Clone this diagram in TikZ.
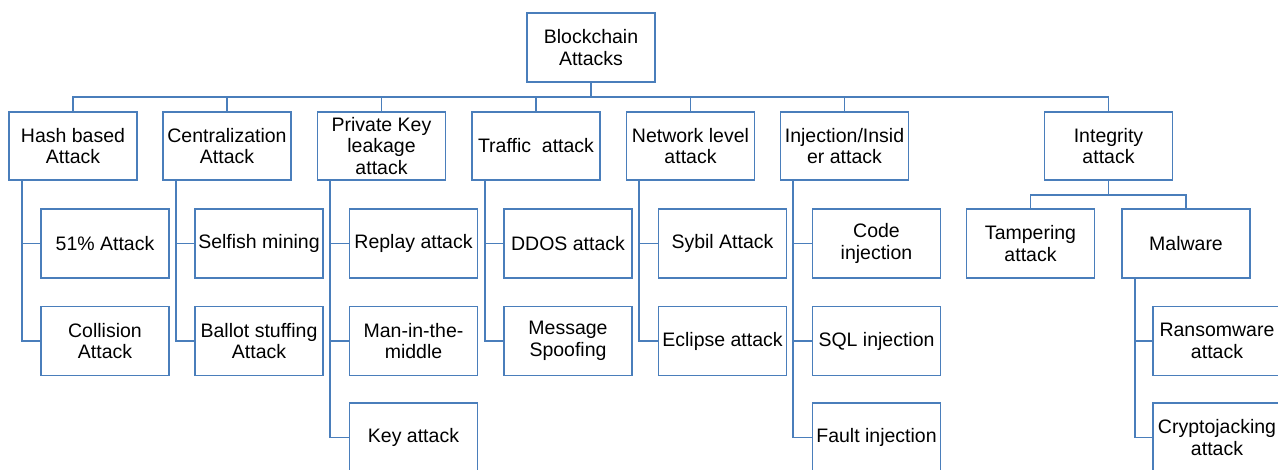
\documentclass[tikz,border=0pt]{standalone}
\usepackage{fontspec}
\setmainfont{Liberation Sans}
\definecolor{boxblue}{RGB}{74,126,187}

\begin{document}
\begin{tikzpicture}[x=1pt, y=-1pt,
    box/.style={draw=boxblue, line width=1.8pt, fill=white,
      minimum width=128pt, minimum height=68pt, inner sep=0pt,
      align=center, font=\fontsize{19.5}{21.5}\selectfont},
    link/.style={draw=boxblue, line width=1.8pt}]

      \useasboundingbox (0,0) rectangle (1278,470);

      % The root of the tree.
      \node [box, minimum height=69pt] (root) at (591,47.5) {Blockchain\\Attacks};
      \coordinate (bus) at (591,97);

      % First level of the tree.
      \node [box] (hash) at (73,146) {Hash based\\Attack};
      \node [box] (central) at (227,146) {Centralization\\Attack};
      \node [box] (privkey) at (381.5,146) {Private Key\\leakage\\attack};
      \node [box] (traffic) at (536,146) {Traffic~ attack};
      \node [box] (network) at (690.5,146) {Network level\\attack};
      \node [box] (inject) at (844.5,146) {Injection/Insid\\er attack};
      \node [box] (integ) at (1108.5,146) {Integrity\\attack};

      % Connect the first level to the root.
      \draw [link] (root.south) -- (bus);
      \draw [link] (bus) -| (hash.north);
      \draw [link] (bus) -| (central.north);
      \draw [link] (bus) -| (privkey.north);
      \draw [link] (bus) -| (traffic.north);
      \draw [link] (bus) -| (network.north);
      \draw [link] (bus) -| (inject.north);
      \draw [link] (bus) -| (integ.north);

      % Hash based attacks.
      \node [box, minimum height=69pt] (pct) at (105,243.5) {51\% Attack};
      \node [box, minimum height=69pt] (collide) at (105,341) {Collision\\Attack};
      \draw [link] ([xshift=13.5pt]hash.south west) |- (pct.west);
      \draw [link] ([xshift=13.5pt]hash.south west) |- (collide.west);

      % Centralization attacks.
      \node [box, minimum height=69pt] (selfish) at (259,243.5) {Selfish mining};
      \node [box, minimum height=69pt] (ballot) at (259,341) {Ballot stuffing\\Attack};
      \draw [link] ([xshift=13.5pt]central.south west) |- (selfish.west);
      \draw [link] ([xshift=13.5pt]central.south west) |- (ballot.west);

      % Private key leakage attacks.
      \node [box, minimum height=69pt] (replay) at (413.5,243.5) {Replay attack};
      \node [box, minimum height=69pt] (mitm) at (413.5,341) {Man-in-the-\\middle};
      \node [box, minimum height=69pt] (keyatk) at (413.5,437.5) {Key attack};
      \draw [link] ([xshift=13.5pt]privkey.south west) |- (replay.west);
      \draw [link] ([xshift=13.5pt]privkey.south west) |- (mitm.west);
      \draw [link] ([xshift=13.5pt]privkey.south west) |- (keyatk.west);

      % Traffic attacks.
      \node [box, minimum height=69pt] (ddos) at (568,243.5) {DDOS attack};
      \node [box, minimum height=69pt] (spoof) at (568,341) {Message\\Spoofing};
      \draw [link] ([xshift=13.5pt]traffic.south west) |- (ddos.west);
      \draw [link] ([xshift=13.5pt]traffic.south west) |- (spoof.west);

      % Network level attacks.
      \node [box, minimum height=69pt] (sybil) at (722.5,243.5) {Sybil Attack};
      \node [box, minimum height=69pt] (eclipse) at (722.5,341) {Eclipse attack};
      \draw [link] ([xshift=13.5pt]network.south west) |- (sybil.west);
      \draw [link] ([xshift=13.5pt]network.south west) |- (eclipse.west);

      % Injection and insider attacks.
      \node [box, minimum height=69pt] (code) at (876.5,243.5) {Code\\injection};
      \node [box, minimum height=69pt] (sql) at (876.5,341) {SQL injection};
      \node [box, minimum height=69pt] (fault) at (876.5,437.5) {Fault injection};
      \draw [link] ([xshift=13.5pt]inject.south west) |- (code.west);
      \draw [link] ([xshift=13.5pt]inject.south west) |- (sql.west);
      \draw [link] ([xshift=13.5pt]inject.south west) |- (fault.west);

      % Integrity attacks, split in two groups.
      \node [box, minimum height=69pt] (tamper) at (1030.5,243.5) {Tampering\\attack};
      \node [box, minimum height=69pt] (malware) at (1186,243.5) {Malware};
      \coordinate (subbus) at (1108.5,195);
      \draw [link] (integ.south) -- (subbus);
      \draw [link] (subbus) -| (tamper.north);
      \draw [link] (subbus) -| (malware.north);

      % Kinds of malware.
      \node [box, minimum height=69pt] (ransom) at (1217,341) {Ransomware\\attack};
      \node [box, minimum height=69pt] (crypto) at (1217,437.5) {Cryptojacking\\attack};
      \draw [link] ([xshift=13.5pt]malware.south west) |- (ransom.west);
      \draw [link] ([xshift=13.5pt]malware.south west) |- (crypto.west);
    \end{tikzpicture}
\end{document}
